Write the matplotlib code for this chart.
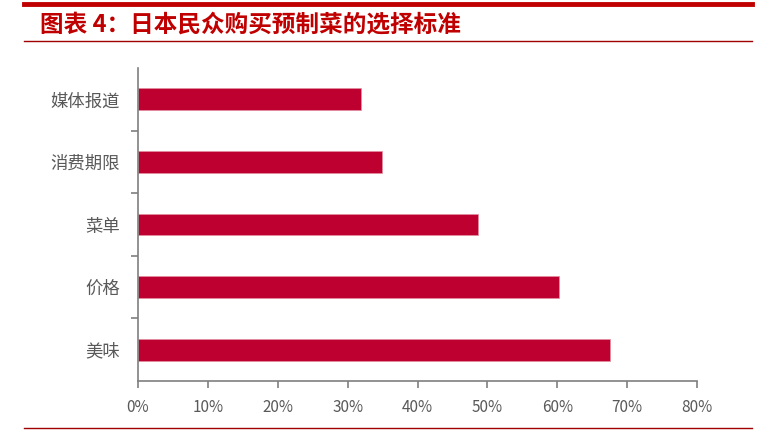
import matplotlib
matplotlib.use("Agg")
import matplotlib.pyplot as plt
from matplotlib.lines import Line2D

plt.rcParams['font.family'] = ['Noto Sans CJK SC', 'DejaVu Sans']

categories = ['美味', '价格', '菜单', '消费期限', '媒体报道']
values = [67.5, 60.2, 48.6, 34.9, 31.9]
xticks = [0, 10, 20, 30, 40, 50, 60, 70, 80]
xtick_labels = ['0%', '10%', '20%', '30%', '40%', '50%', '60%', '70%', '80%']
title = '图表 4：日本民众购买预制菜的选择标准'

W, H = 769, 436
fig = plt.figure(figsize=(W / 100, H / 100), dpi=100)
ax = fig.add_axes([138 / W, 1 - 381 / H, (697 - 138) / W, (381 - 68) / H])

bar_color = '#BE0030'
ypos = list(range(len(categories)))
ax.barh(ypos, values, height=0.35, color=bar_color, edgecolor='#E58FA0', linewidth=0.5)
ax.set_xlim(0, 80)
ax.set_ylim(-0.5, len(categories) - 0.5)
ax.set_xticks(xticks)
ax.set_xticklabels(xtick_labels)
ax.set_yticks(ypos)
ax.set_yticklabels(categories)
ax.set_yticks([i + 0.5 for i in range(len(categories) - 1)], minor=True)

gray = '#7F7F7F'
for s in ['top', 'right']:
    ax.spines[s].set_visible(False)
for s in ['left', 'bottom']:
    ax.spines[s].set_color(gray)
    ax.spines[s].set_linewidth(1.2)
ax.tick_params(axis='y', which='major', length=0, pad=13, labelsize=12.5, labelcolor='#595959')
ax.tick_params(axis='y', which='minor', length=5, width=1.2, color=gray, direction='out')
ax.tick_params(axis='x', which='major', length=5, width=1.2, color=gray, direction='out',
               pad=8, labelsize=11, labelcolor='#595959')

# decorative lines
red = '#C00000'
fig.add_artist(Line2D([24 / W, 752 / W], [1 - 4 / H, 1 - 4 / H], color=red, linewidth=3.5,
                      transform=fig.transFigure))
fig.add_artist(Line2D([24 / W, 752 / W], [1 - 41 / H, 1 - 41 / H], color='#A00000', linewidth=1.0,
                      transform=fig.transFigure))
fig.add_artist(Line2D([24 / W, 752 / W], [1 - 428 / H, 1 - 428 / H], color='#A00000', linewidth=1.0,
                      transform=fig.transFigure))
fig.text(40 / W, 1 - 24 / H, title, color=red, fontsize=17, fontweight='bold',
         style='italic', ha='left', va='center')

fig.savefig('out.png', dpi=100)
